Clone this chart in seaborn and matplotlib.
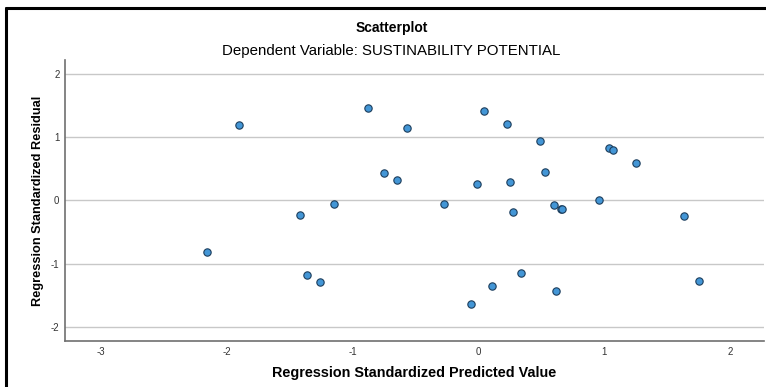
import matplotlib

matplotlib.use("Agg")

import matplotlib.pyplot as plt
import pandas as pd
import seaborn as sns
from matplotlib.lines import Line2D

# Residual plot values
predicted = [
    -1.905, -0.876, -0.749, -0.651, -0.571, 0.040, 0.230, 0.489, 1.037, 1.066,
    1.254, -0.011, 0.251, 0.529, 0.957, -1.146, -1.416, -2.154, -1.363, -1.262,
    -0.275, 0.275, 0.598, 0.653, 0.664, 1.635, 0.336, 0.106, 0.613, -0.061, 1.751,
]
residual = [
    1.185, 1.463, 0.431, 0.321, 1.147, 1.411, 1.211, 0.942, 0.821, 0.790,
    0.594, 0.262, 0.289, 0.452, 0.005, -0.058, -0.227, -0.812, -1.185, -1.291,
    -0.063, -0.185, -0.074, -0.132, -0.137, -0.253, -1.148, -1.359, -1.438, -1.638, -1.275,
]
x_ticks = [-3, -2, -1, 0, 1, 2]
y_ticks = [-2, -1, 0, 1, 2]

title = "Scatterplot"
subtitle = "Dependent Variable: SUSTINABILITY POTENTIAL"
x_label = "Regression Standardized Predicted Value"
y_label = "Regression Standardized Residual"

df = pd.DataFrame({"pred": predicted, "resid": residual})

sns.set_style("white")
plt.rcParams["font.family"] = ["Liberation Sans", "DejaVu Sans"]
plt.rcParams["axes.unicode_minus"] = False

fig = plt.figure(figsize=(7.66, 3.87), dpi=100)
ax = fig.add_axes([0.0849, 0.119, 0.912, 0.726])

ax.set_xlim(-3.283, 2.264)
ax.set_ylim(-2.223, 2.216)
ax.set_yticks(y_ticks)
ax.set_xticks(x_ticks)
ax.yaxis.grid(True, color="#c8c8c8", linewidth=1.0)
ax.set_axisbelow(True)

sns.scatterplot(
    data=df, x="pred", y="resid", ax=ax,
    color="#4396d6", edgecolor="#1c3d5c", linewidth=0.8, s=28, zorder=3,
)

for side in ("top", "right"):
    ax.spines[side].set_visible(False)
for side in ("left", "bottom"):
    ax.spines[side].set_color("#707070")
    ax.spines[side].set_linewidth(1.2)

ax.tick_params(axis="both", length=0, labelsize=7, colors="#333333", pad=4)
ax.set_xlabel(x_label, fontsize=10.4, fontweight="bold", labelpad=7, color="black")
ax.set_ylabel(y_label, fontsize=9.2, fontweight="bold", labelpad=5, color="black")

fig.text(0.511, 0.928, title, ha="center", va="center", fontsize=10, fontweight="bold", color="black")
fig.text(0.511, 0.869, subtitle, ha="center", va="center", fontsize=10.8, color="black")

# outer frame (left and top edges only)
fig.add_artist(Line2D([0.008, 0.008], [0.0, 0.98], transform=fig.transFigure, color="black", linewidth=2.2))
fig.add_artist(Line2D([0.008, 1.0], [0.98, 0.98], transform=fig.transFigure, color="black", linewidth=2.2))

fig.savefig("out.png", dpi=100)
plt.close(fig)
